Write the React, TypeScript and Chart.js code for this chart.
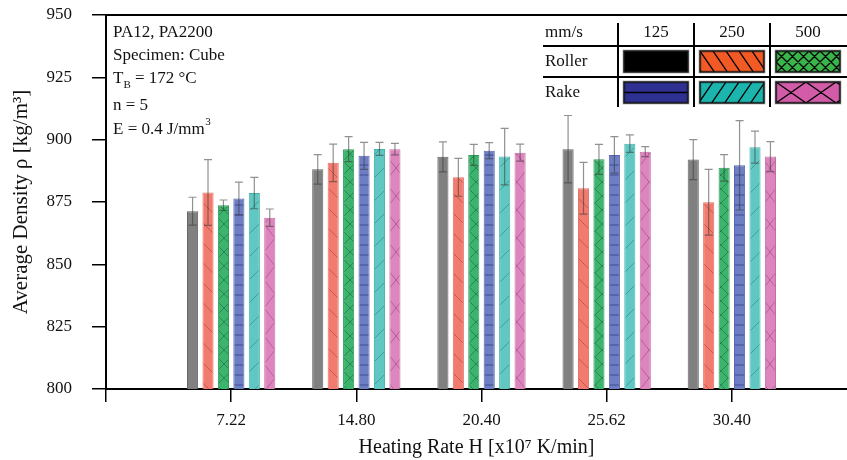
import { useEffect, useRef } from 'react';
import { Chart, registerables } from 'chart.js';

Chart.register(...registerables);

// Heating rate groups on the x axis
const heatingRates = ['7.22', '14.80', '20.40', '25.62', '30.40'];
const speeds = ['125', '250', '500'];
const coaters = ['Roller', 'Rake'];

// Mean density [kg/m3] per heating rate
const roller125 = [871.3, 888.1, 893.1, 896.2, 892.0];
const roller250 = [878.8, 890.7, 884.9, 880.5, 874.9];
const roller500 = [873.7, 896.2, 893.9, 892.1, 888.7];
const rake125 = [876.4, 893.5, 895.6, 893.9, 889.7];
const rake250 = [878.6, 896.3, 893.2, 898.4, 897.0];
const rake500 = [868.7, 896.2, 894.8, 895.2, 893.2];

// Standard deviation [kg/m3]
const roller125Sd = [5.6, 5.9, 6.0, 13.5, 8.0];
const roller250Sd = [13.2, 7.5, 7.6, 10.4, 13.2];
const roller500Sd = [2.1, 5.0, 4.2, 6.0, 5.3];
const rake125Sd = [6.6, 5.4, 3.2, 7.3, 17.9];
const rake250Sd = [6.3, 2.6, 11.3, 3.5, 6.4];
const rake500Sd = [3.5, 2.3, 3.4, 2.0, 6.0];

const SERIF = '"Liberation Serif", "Times New Roman", serif';
const INK = '#111';

type Hatch = 'none' | 'back' | 'fwd' | 'cross' | 'horiz' | 'bigx';

interface Series {
  values: number[];
  sd: number[];
  fill: string;
  border: string;
  line: string;
  hatch: Hatch;
  tw: number;
  th: number;
  key: string;
  keyTw: number;
  keyTh: number;
}

const series: Series[] = [
  { values: roller125, sd: roller125Sd, fill: '#808080', border: '#636363', line: '', hatch: 'none', tw: 10, th: 10, key: '#000000', keyTw: 10, keyTh: 10 },
  { values: roller250, sd: roller250Sd, fill: '#f27b6f', border: '#e36e62', line: 'rgba(160,45,35,0.45)', hatch: 'back', tw: 20, th: 20, key: '#f15a24', keyTw: 13, keyTh: 19 },
  { values: roller500, sd: roller500Sd, fill: '#3db46d', border: '#2f9d5a', line: 'rgba(15,85,45,0.45)', hatch: 'cross', tw: 14, th: 14, key: '#39b54a', keyTw: 11, keyTh: 11 },
  { values: rake125, sd: rake125Sd, fill: '#6e7ec2', border: '#5867b0', line: 'rgba(35,45,125,0.6)', hatch: 'horiz', tw: 10, th: 10, key: '#2e3192', keyTw: 10, keyTh: 21 },
  { values: rake250, sd: rake250Sd, fill: '#61c7c2', border: '#44b2ac', line: 'rgba(20,115,110,0.45)', hatch: 'fwd', tw: 23, th: 23, key: '#1bb5ae', keyTw: 13, keyTh: 19 },
  { values: rake500, sd: rake500Sd, fill: '#dd86be', border: '#c66ca9', line: 'rgba(145,45,115,0.45)', hatch: 'bigx', tw: 22, th: 28, key: '#d25ca8', keyTw: 30, keyTh: 21 },
];

function strokeHatch(
  ctx: CanvasRenderingContext2D,
  kind: Hatch,
  x: number,
  y: number,
  w: number,
  h: number,
  tw: number,
  th: number
) {
  if (kind === 'none') return;
  ctx.save();
  ctx.beginPath();
  ctx.rect(x, y, w, h);
  ctx.clip();
  ctx.beginPath();
  if (kind === 'horiz') {
    for (let yy = y + th / 2; yy < y + h; yy += th) {
      ctx.moveTo(x, yy);
      ctx.lineTo(x + w, yy);
    }
  } else {
    const n = Math.ceil(h / th) + 1;
    const kMax = Math.ceil(w / tw) + n;
    const down = kind === 'back' || kind === 'cross' || kind === 'bigx';
    const up = kind === 'fwd' || kind === 'cross' || kind === 'bigx';
    for (let k = -n; k <= kMax; k++) {
      const x0 = x + k * tw;
      if (down) {
        ctx.moveTo(x0 - tw * n, y - th * n);
        ctx.lineTo(x0 + tw * n, y + th * n);
      }
      if (up) {
        ctx.moveTo(x0 + tw * n, y - th * n);
        ctx.lineTo(x0 - tw * n, y + th * n);
      }
    }
  }
  ctx.stroke();
  ctx.restore();
}

function makePattern(ctx: CanvasRenderingContext2D, s: Series): CanvasPattern | string {
  if (s.hatch === 'none') return s.fill;
  const c = document.createElement('canvas');
  c.width = s.tw;
  c.height = s.th;
  const g = c.getContext('2d') as CanvasRenderingContext2D;
  g.fillStyle = s.fill;
  g.fillRect(0, 0, s.tw, s.th);
  g.strokeStyle = s.line;
  g.lineWidth = 1;
  strokeHatch(g, s.hatch, 0, 0, s.tw, s.th, s.tw, s.th);
  return ctx.createPattern(c, 'repeat') || s.fill;
}

// Whiskers with caps for the standard deviation of each bar
const errorBars = {
  id: 'errorBars',
  afterDatasetsDraw(chart: any) {
    const { ctx } = chart;
    const yScale = chart.scales.y;
    ctx.save();
    ctx.strokeStyle = 'rgba(55,55,55,0.55)';
    ctx.lineWidth = 1.2;
    series.forEach((s, di) => {
      const meta = chart.getDatasetMeta(di);
      meta.data.forEach((bar: any, i: number) => {
        const top = yScale.getPixelForValue(s.values[i] + s.sd[i]);
        const bot = yScale.getPixelForValue(s.values[i] - s.sd[i]);
        const x = bar.x;
        ctx.beginPath();
        ctx.moveTo(x, top);
        ctx.lineTo(x, bot);
        ctx.moveTo(x - 4, top);
        ctx.lineTo(x + 4, top);
        ctx.moveTo(x - 4, bot);
        ctx.lineTo(x + 4, bot);
        ctx.stroke();
      });
    });
    ctx.restore();
  },
};

// Frame top line, test conditions and the coater / speed key table
const decorations = {
  id: 'decorations',
  afterDraw(chart: any) {
    const { ctx, chartArea } = chart;
    const { left, top, right } = chartArea;
    ctx.save();

    // top frame line
    ctx.strokeStyle = '#000';
    ctx.lineWidth = 2;
    ctx.beginPath();
    ctx.moveTo(left - 1, top);
    ctx.lineTo(right, top);
    ctx.stroke();

    // test conditions
    ctx.fillStyle = INK;
    ctx.textAlign = 'left';
    ctx.textBaseline = 'alphabetic';
    const f = `17px ${SERIF}`;
    const fs = `11px ${SERIF}`;
    const tx = left + 7;
    ctx.font = f;
    ctx.fillText('PA12, PA2200', tx, top + 22);
    ctx.fillText('Specimen: Cube', tx, top + 45);
    ctx.fillText('T', tx, top + 68);
    let cx = tx + ctx.measureText('T').width;
    ctx.font = fs;
    ctx.fillText('B', cx, top + 73);
    cx += ctx.measureText('B').width;
    ctx.font = f;
    ctx.fillText(' = 172 °C', cx, top + 68);
    ctx.fillText('n = 5', tx, top + 95);
    const eText = 'E = 0.4 J/mm';
    ctx.fillText(eText, tx, top + 119);
    const ex = tx + ctx.measureText(eText).width;
    ctx.font = fs;
    ctx.fillText('3', ex + 0.5, top + 110);

    // key table
    const tableLeft = right - 304;
    const seps = [right - 229, right - 153, right - 77];
    const headY = top + 18;
    const rowY = [top + 47, top + 78];
    const rowTop = [top + 36, top + 67];
    const swH = 21;
    const swW = 64;

    ctx.strokeStyle = '#000';
    ctx.lineWidth = 2;
    ctx.beginPath();
    ctx.moveTo(tableLeft, top + 31);
    ctx.lineTo(right, top + 31);
    ctx.moveTo(tableLeft, top + 62);
    ctx.lineTo(right, top + 62);
    seps.forEach((sx) => {
      ctx.moveTo(sx, top + 8);
      ctx.lineTo(sx, top + 92);
    });
    ctx.stroke();

    ctx.font = f;
    ctx.fillStyle = INK;
    ctx.textBaseline = 'middle';
    ctx.textAlign = 'left';
    ctx.fillText('mm/s', tableLeft + 2, headY);
    coaters.forEach((c, r) => ctx.fillText(c, tableLeft + 2, rowY[r]));
    ctx.textAlign = 'center';
    speeds.forEach((sp, ci) => ctx.fillText(sp, seps[ci] + 6 + swW / 2, headY));

    series.forEach((s, idx) => {
      const r = Math.floor(idx / 3);
      const ci = idx % 3;
      const x = seps[ci] + 6;
      const y = rowTop[r];
      ctx.fillStyle = s.key;
      ctx.fillRect(x, y, swW, swH);
      ctx.strokeStyle = '#000';
      ctx.lineWidth = 1.3;
      strokeHatch(ctx, s.hatch, x, y, swW, swH, s.keyTw, s.keyTh);
      ctx.strokeStyle = 'rgba(0,0,0,0.25)';
      ctx.lineWidth = 3;
      ctx.strokeRect(x, y, swW, swH);
      ctx.strokeStyle = '#1a1a1a';
      ctx.lineWidth = 1.5;
      ctx.strokeRect(x, y, swW, swH);
    });

    ctx.restore();
  },
};

export default function App() {
  const ref = useRef<HTMLCanvasElement>(null);

  useEffect(() => {
    const canvas = ref.current;
    if (!canvas) return;
    const ctx = canvas.getContext('2d') as CanvasRenderingContext2D;

    const chart = new Chart(canvas, {
      type: 'bar',
      data: {
        datasets: series.map((s, di) => ({
          label: `${coaters[Math.floor(di / 3)]} ${speeds[di % 3]}`,
          data: s.values.map((v, i) => ({ x: i + 1, y: v })),
          backgroundColor: makePattern(ctx, s),
          borderColor: s.border,
          borderWidth: 1,
          categoryPercentage: 0.74,
          barPercentage: 0.72,
        })),
      },
      options: {
        animation: false,
        responsive: false,
        devicePixelRatio: 1,
        layout: { padding: { top: 15, right: 0, left: 0, bottom: 0 } },
        plugins: {
          legend: { display: false },
          tooltip: { enabled: false },
        },
        scales: {
          x: {
            type: 'linear',
            min: 0,
            max: 5.92,
            offset: false,
            afterBuildTicks: (scale: any) => {
              scale.ticks = [0, 1, 2, 3, 4, 5].map((value) => ({ value }));
            },
            afterFit: (scale: any) => {
              scale.height = 71;
              scale.paddingLeft = 0;
              scale.paddingRight = 0;
            },
            ticks: {
              callback: (value: any) => heatingRates[Number(value) - 1] ?? '',
              font: { family: SERIF, size: 17 },
              color: INK,
              padding: 8,
              maxRotation: 0,
              autoSkip: false,
            },
            grid: {
              offset: false,
              drawOnChartArea: false,
              drawTicks: true,
              tickLength: 13,
              color: '#000',
              lineWidth: 1.5,
            },
            border: { color: '#000', width: 2 },
            title: {
              display: true,
              text: 'Heating Rate H [x10⁷ K/min]',
              font: { family: SERIF, size: 20 },
              color: INK,
              padding: { top: 4, bottom: 0 },
            },
          },
          y: {
            min: 800,
            max: 950,
            beginAtZero: false,
            afterFit: (scale: any) => {
              scale.width = 106;
              scale.paddingTop = 0;
              scale.paddingBottom = 0;
            },
            ticks: {
              stepSize: 25,
              font: { family: SERIF, size: 17 },
              color: INK,
              padding: 20,
            },
            grid: {
              drawOnChartArea: false,
              drawTicks: true,
              tickLength: 14,
              color: '#000',
              lineWidth: 1.5,
            },
            border: { color: '#000', width: 2 },
            title: {
              display: true,
              text: 'Average Density ρ [kg/m³]',
              font: { family: SERIF, size: 21 },
              color: INK,
              padding: { top: 9, bottom: 0 },
            },
          },
        },
      },
      plugins: [errorBars, decorations],
    } as any);

    return () => chart.destroy();
  }, []);

  return (
    <div style={{ position: 'fixed', left: 0, top: 0, width: 847, height: 460, background: '#fff' }}>
      <canvas ref={ref} width={847} height={460} style={{ display: 'block', width: 847, height: 460 }} />
    </div>
  );
}
